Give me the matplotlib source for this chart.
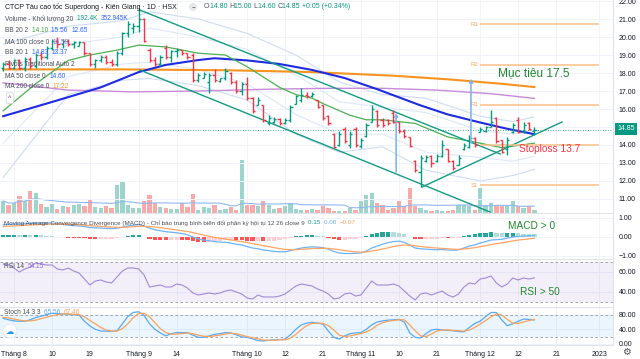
import numpy as np
import pandas as pd
import matplotlib
matplotlib.use('Agg')
import matplotlib.pyplot as plt
from matplotlib import font_manager

names = {f.name for f in font_manager.fontManager.ttflist}
FONT = 'Liberation Sans' if 'Liberation Sans' in names else 'DejaVu Sans'
plt.rcParams['font.family'] = [FONT, 'DejaVu Sans']

# ---- data (bar index 0 = 1 Aug 2022) ----
first_bar = -2
opens = [18.3, 18.5, 18.3, 18.7, 18.3, 18.8, 18.4, 19.0, 18.9, 19.4, 19.8, 19.6, 19.8, 19.6, 19.5, 19.7, 19.1, 18.5, 18.7, 18.9,
         18.6, 18.5, 19.1, 20.2, 20.5, 20.6, 21.0, 19.3, 18.7, 18.5, 19.4, 18.9, 19.2, 19.3, 19.1, 19.0, 17.6, 17.75, 17.5, 17.9,
         17.55, 17.7, 18.0, 17.5, 17.0, 17.4, 16.6, 16.2, 16.2, 15.2, 15.3, 15.45, 15.2, 15.4, 16.3, 16.5, 16.8, 16.7, 16.5, 16.2,
         15.6, 14.6, 14.0, 14.9, 14.0, 14.9, 13.95, 14.5, 15.3, 15.9, 15.4, 15.4, 15.8, 15.3, 14.8, 14.45, 13.1, 12.5, 13.1, 13.4,
         13.1, 13.4, 13.8, 13.1, 12.9, 13.8, 13.9, 14.4, 14.7, 14.8, 15.0, 15.5, 14.3, 13.8, 14.7, 15.4, 14.7, 15.2, 14.8]
highs = [18.6, 18.7, 18.8, 18.8, 18.9, 18.9, 19.1, 19.2, 19.5, 19.9, 20.0, 19.9, 19.9, 19.8, 19.8, 19.7, 19.1, 18.8, 19.0, 19.0,
         18.8, 19.2, 20.3, 20.9, 20.8, 21.6, 21.05, 19.4, 18.9, 19.0, 19.55, 19.3, 19.4, 19.3, 19.1, 19.1, 18.0, 18.05, 18.0, 18.2,
         17.75, 18.3, 18.05, 17.6, 17.5, 17.8, 16.65, 16.65, 16.2, 15.65, 15.55, 15.5, 15.5, 16.2, 16.8, 17.15, 16.95, 16.95, 16.5, 16.2,
         15.65, 14.65, 14.8, 15.0, 14.8, 15.0, 14.4, 15.2, 16.2, 15.95, 15.5, 15.45, 15.95, 15.3, 14.9, 14.45, 13.15, 13.45, 13.45, 13.45,
         13.5, 14.3, 13.8, 13.15, 13.45, 14.1, 14.55, 14.45, 15.0, 15.05, 15.95, 15.55, 14.3, 14.45, 15.2, 15.55, 15.3, 15.3, 15.0]
lows = [18.1, 18.2, 18.2, 18.2, 18.1, 18.2, 18.3, 18.7, 18.8, 19.3, 19.4, 19.4, 19.5, 19.4, 19.5, 19.0, 18.4, 18.3, 18.6, 18.5,
        18.4, 18.4, 19.0, 20.0, 20.2, 20.3, 19.7, 18.6, 18.4, 18.4, 18.8, 18.6, 18.9, 19.0, 18.8, 17.5, 17.5, 17.7, 16.9, 17.5,
        17.5, 17.6, 17.4, 16.9, 16.8, 16.5, 15.8, 16.2, 15.3, 15.1, 15.2, 15.1, 15.15, 15.3, 16.3, 16.4, 16.6, 16.65, 16.05, 15.4,
        15.1, 13.85, 13.95, 14.1, 13.85, 13.9, 13.85, 14.45, 15.3, 15.0, 15.0, 15.1, 15.2, 14.65, 14.4, 13.9, 12.5, 11.65, 13.05, 12.8,
        13.05, 13.35, 13.05, 12.6, 12.9, 13.7, 13.85, 13.9, 14.7, 14.7, 15.0, 14.1, 13.55, 13.45, 14.65, 14.65, 14.65, 14.85, 14.6]
closes = [18.5, 18.3, 18.7, 18.3, 18.8, 18.4, 19.0, 18.9, 19.4, 19.8, 19.6, 19.8, 19.6, 19.7, 19.7, 19.1, 18.5, 18.7, 18.9, 18.6,
          18.5, 19.1, 20.2, 20.7, 20.6, 21.0, 19.8, 18.7, 18.5, 18.9, 18.9, 19.2, 19.3, 19.1, 18.9, 17.6, 17.9, 17.95, 17.9, 17.6,
          17.7, 18.1, 17.5, 17.0, 17.4, 16.6, 15.9, 16.5, 15.4, 15.5, 15.45, 15.2, 15.4, 16.1, 16.7, 16.8, 16.7, 16.85, 16.1, 15.5,
          15.2, 13.9, 14.6, 14.2, 14.6, 14.0, 14.3, 15.1, 16.0, 15.1, 15.1, 15.2, 15.3, 14.8, 14.5, 13.95, 12.6, 13.3, 13.35, 13.0,
          13.4, 14.0, 13.1, 12.7, 13.3, 14.0, 14.4, 14.0, 14.9, 15.0, 15.3, 14.2, 13.6, 14.3, 15.1, 14.7, 15.1, 14.9, 14.85]
volume_k = [700, 460, 580, 990, 700, 1280, 1160, 520, 350, 520, 230, 410, 350, 460, 520, 410, 750, 350, 290, 410,
            290, 1620, 1860, 460, 290, 290, 700, 1040, 580, 350, 290, 230, 230, 580, 350, 1100, 170, 350, 290, 460,
            170, 230, 350, 170, 3070, 460, 460, 410, 700, 460, 230, 290, 410, 580, 230, 170, 170, 230, 170, 410,
            290, 120, 120, 120, 290, 170, 700, 1040, 1160, 580, 460, 170, 290, 700, 410, 1450, 410, 290, 170, 120,
            170, 120, 120, 170, 460, 460, 410, 170, 1450, 460, 580, 410, 410, 410, 700, 410, 290, 410, 192.4]

# moving averages / bands read at a few bars
ma50_x = [-2, 6, 16, 23, 28, 34, 37, 43, 49, 55, 61, 67, 75, 80, 86, 91, 96]
ma50_y = [15.6, 16.3, 17.2, 18.05, 18.45, 18.72, 18.82, 18.7, 18.5, 18.17, 17.72, 17.1, 16.2, 15.7, 15.25, 14.9, 14.6]
ma100_x = [-2, 10, 22, 34, 47, 58, 68, 78, 88, 96]
ma100_y = [17.45, 17.05, 16.95, 17.0, 17.1, 17.15, 17.15, 17.05, 16.85, 16.59]
ma200_x = [-2, 20, 40, 55, 70, 80, 90, 96]
ma200_y = [18.2, 18.2, 18.15, 18.05, 17.85, 17.65, 17.4, 17.22]
bb_mid_x = [-2, 4, 10, 14, 19, 23, 28, 34, 39, 43, 49, 52, 55, 57, 62, 65, 68, 74, 80, 86, 90, 96]
bb_mid_y = [15.9, 17.4, 18.7, 19.0, 19.27, 19.55, 19.45, 19.1, 19.0, 18.35, 17.2, 16.8, 16.6, 16.3, 15.65, 15.4, 15.4, 15.2,
            14.45, 14.1, 13.85, 14.1]
bb_x = [-2, 10, 20, 25, 34, 43, 52, 60, 68, 76, 86, 92, 96]
bb_up2 = [19.6, 20.6, 20.9, 21.4, 21.0, 20.2, 19.0, 17.5, 16.8, 16.6, 15.6, 15.3, 15.56]
bb_lo2 = [12.2, 16.8, 17.6, 17.7, 17.3, 16.5, 14.6, 13.6, 13.9, 12.6, 12.0, 12.3, 12.65]
bb_up1 = [17.7, 19.6, 20.0, 20.5, 20.0, 19.3, 17.9, 16.4, 16.1, 15.8, 14.8, 14.6, 14.83]
bb_lo1 = [14.1, 17.8, 18.5, 18.6, 18.2, 17.4, 15.7, 14.6, 14.6, 13.6, 13.3, 13.1, 13.37]

macd = [0.64, 0.66, 0.68, 0.68, 0.70, 0.71, 0.73, 0.74, 0.74, 0.73, 0.70, 0.66, 0.62, 0.60, 0.58, 0.55, 0.50, 0.48, 0.47, 0.45,
        0.44, 0.46, 0.52, 0.58, 0.62, 0.65, 0.58, 0.47, 0.38, 0.33, 0.28, 0.25, 0.22, 0.18, 0.12, 0.00, -0.10, -0.16, -0.20, -0.24,
        -0.27, -0.28, -0.32, -0.38, -0.42, -0.50, -0.58, -0.62, -0.68, -0.72, -0.76, -0.78, -0.78, -0.72, -0.64, -0.58, -0.54, -0.52,
        -0.53, -0.56, -0.64, -0.76, -0.84, -0.87, -0.87, -0.86, -0.84, -0.74, -0.58, -0.48, -0.38, -0.30, -0.24, -0.22, -0.28, -0.42,
        -0.58, -0.62, -0.64, -0.66, -0.67, -0.66, -0.68, -0.70, -0.68, -0.58, -0.48, -0.42, -0.32, -0.24, -0.16, -0.14, -0.12, -0.06,
        0.00, 0.03, 0.05, 0.07, 0.08]
signal = [0.55, 0.57, 0.58, 0.60, 0.61, 0.63, 0.64, 0.66, 0.67, 0.68, 0.68, 0.68, 0.67, 0.66, 0.64, 0.62, 0.60, 0.58, 0.56, 0.54,
          0.52, 0.51, 0.51, 0.52, 0.54, 0.56, 0.56, 0.55, 0.53, 0.49, 0.45, 0.41, 0.37, 0.33, 0.29, 0.23, 0.16, 0.10, 0.04, -0.02,
          -0.07, -0.11, -0.15, -0.20, -0.24, -0.29, -0.35, -0.40, -0.46, -0.51, -0.56, -0.61, -0.65, -0.67, -0.67, -0.65, -0.63, -0.61,
          -0.60, -0.59, -0.60, -0.63, -0.67, -0.71, -0.75, -0.78, -0.80, -0.79, -0.74, -0.69, -0.63, -0.57, -0.50, -0.45, -0.42, -0.43,
          -0.46, -0.50, -0.53, -0.56, -0.58, -0.60, -0.62, -0.64, -0.65, -0.63, -0.60, -0.56, -0.51, -0.46, -0.40, -0.35, -0.31, -0.26,
          -0.21, -0.16, -0.13, -0.10, -0.07]
rsi = [68, 67, 64, 60, 63, 65, 69, 68, 67, 67, 63, 62, 64, 61, 59, 53, 47, 51, 52, 50,
       49, 55, 61, 64, 64, 63, 57, 45, 46, 47, 45, 45, 48, 47, 44, 39, 37, 38, 39, 38,
       39, 41, 42, 40, 38, 34, 33, 37, 35, 35, 35, 36, 38, 42, 46, 48, 47, 46, 43, 41,
       38, 33, 34, 38, 39, 36, 37, 44, 51, 47, 47, 47, 48, 46, 41, 36, 32, 38, 39, 37,
       39, 41, 37, 35, 38, 45, 49, 48, 53, 54, 56, 49, 45, 48, 54, 52, 54, 53, 54.15]
stoch_k = [70, 66, 63, 62, 62, 66, 72, 76, 80, 84, 83, 82, 81, 80, 79, 62, 49, 40, 35, 35,
           34, 36, 55, 75, 86, 88, 78, 55, 40, 30, 22, 28, 31, 31, 31, 24, 18, 18, 22, 26,
           28, 31, 30, 25, 19, 18, 14, 9, 8, 10, 11, 12, 13, 25, 40, 52, 57, 59, 57, 54,
           35, 18, 13, 22, 28, 30, 31, 40, 52, 60, 63, 65, 66, 67, 60, 30, 18, 16, 28, 38,
           40, 38, 37, 36, 34, 33, 45, 56, 62, 75, 86, 86, 65, 50, 55, 62, 68, 67, 65.56]
stoch_d = [73, 71, 68, 65, 63, 63, 65, 69, 73, 77, 80, 82, 82, 81, 80, 74, 64, 55, 45, 38,
           35, 35, 42, 55, 72, 83, 84, 74, 58, 42, 31, 27, 27, 28, 30, 28, 24, 21, 20, 22,
           24, 27, 29, 28, 24, 20, 17, 14, 11, 10, 10, 11, 11, 16, 26, 39, 50, 56, 57, 56,
           50, 38, 24, 20, 22, 25, 28, 33, 40, 51, 58, 62, 64, 66, 66, 52, 36, 22, 20, 27,
           35, 38, 38, 37, 36, 35, 38, 45, 54, 64, 74, 82, 79, 67, 57, 56, 60, 64, 67.46]

pivot_names = ['R3', 'R2', 'R1', 'P', 'S1']
pivot_levels = [20.72, 18.45, 16.25, 13.98, 11.75]
date_pos = [0, 7, 14, 23, 30, 43, 50, 57, 64, 71, 78, 86, 93, 100, 108]
date_labels = ['Tháng 8', '10', '19', 'Tháng 9', '14', 'Tháng 10', '12', '21', 'Tháng 11', '10', '21',
               'Tháng 12', '12', '21', '2023']

# trend lines drawn on the chart (bar index, price)
chan_top = ([23.2, 89.7], [21.5, 13.5])
chan_bot = ([23.2, 87.8], [18.17, 10.28])
up_line = ([75.3, 101.1], [11.67, 15.28])

# ---- styling ----
W, H = 640, 359
UP, DN = '#089981', '#f23645'
GRID = '#f0f3fa'
SEP = '#e0e3eb'
TXT = '#131722'
XMIN, XMAX = -2.58, 110.5

fig = plt.figure(figsize=(W / 100, H / 100), dpi=100)
fig.patch.set_facecolor('white')


def rect(top, bottom, right=613):
    return [0, 1 - bottom / H, right / W, (bottom - top) / H]


ax_vol = fig.add_axes(rect(0, 213))
ax = fig.add_axes(rect(0, 213))
ax_macd = fig.add_axes(rect(213, 259))
ax_rsi = fig.add_axes(rect(259, 307))
ax_st = fig.add_axes(rect(307, 345))
ax.patch.set_visible(False)

idx = np.arange(first_bar, first_bar + len(closes))
o, h, l, c = map(np.array, (opens, highs, lows, closes))
col = np.where(c >= o, UP, DN)

for a in (ax_vol, ax, ax_macd, ax_rsi, ax_st):
    a.set_xlim(XMIN, XMAX)
    for s in a.spines.values():
        s.set_visible(False)
    a.spines['right'].set_visible(True)
    a.spines['right'].set_color(SEP)
    a.spines['right'].set_linewidth(0.8)
    a.yaxis.tick_right()
    a.tick_params(axis='y', length=0, pad=4, labelsize=5, labelcolor=TXT)
    a.set_xticks(date_pos)
    a.tick_params(axis='x', length=0, labelbottom=False)
for a in (ax_macd, ax_rsi, ax_st):
    a.spines['top'].set_visible(True)
    a.spines['top'].set_color(SEP)
    a.grid(True, color=GRID, lw=0.7)
    a.set_axisbelow(True)

# volume behind price
vol_col = np.where(c >= o, '#9dd5cd', '#f8a9a8')
ax_vol.bar(idx, volume_k, width=0.78, color=vol_col, zorder=2)
vma = pd.Series(volume_k).rolling(20, min_periods=1).mean()
ax_vol.plot(idx, vma, color='#8fb8f0', lw=0.8, zorder=3)
ax_vol.set_ylim(0, 213 * 58)
ax_vol.set_yticks([])
ax_vol.grid(True, axis='x', color=GRID, lw=0.7)
ax_vol.set_axisbelow(True)
ax_vol.spines['right'].set_visible(False)

# price pane
ax.set_ylim(10.222, 22.056)
ax.set_yticks(np.arange(11, 23))
ax.set_yticklabels(['%.2f' % v if v != 15 else '' for v in np.arange(11, 23)])
ax.yaxis.grid(True, color=GRID, lw=0.7, zorder=0)
ax.set_axisbelow(True)

ax.plot(bb_x, bb_up2, color='#cddcf4', lw=0.8)
ax.plot(bb_x, bb_lo2, color='#cddcf4', lw=0.8)
ax.plot(bb_x, bb_up1, color='#dde7f7', lw=0.8)
ax.plot(bb_x, bb_lo1, color='#dde7f7', lw=0.8)
ax.plot(ma100_x, ma100_y, color='#c98ad9', lw=1.0)
ax.plot(ma200_x, ma200_y, color='#f7931e', lw=1.5)
ax.plot(ma50_x, ma50_y, color='#1f2be0', lw=1.5)
ax.plot(bb_mid_x, bb_mid_y, color='#4caf50', lw=0.9)

ax.plot(*chan_top, color='#139b82', lw=1.0)
ax.plot(*chan_bot, color='#139b82', lw=1.0)
ax.plot(*up_line, color='#139b82', lw=1.0)

ax.vlines(idx, l, h, colors=col, lw=1.0, zorder=5)
ax.hlines(o, idx - 0.4, idx, colors=col, lw=1.0, zorder=5)
ax.hlines(c, idx, idx + 0.4, colors=col, lw=1.0, zorder=5)

for name, lev in zip(pivot_names, pivot_levels):
    ax.hlines(lev, 86, 108, color='#fbbf86', lw=1.1, zorder=3)
    if name != 'P':
        ax.text(85.6, lev, name, color='#f7a35c', fontsize=4.3, ha='right', va='center')

ax.axhline(14.85, color=UP, lw=0.6, ls=(0, (1, 2)), zorder=4)

ax.annotate('', xy=(70.5, 15.95), xytext=(70.5, 12.35),
            arrowprops=dict(arrowstyle='-|>', color='#7db7f5', lw=1.2, mutation_scale=5), zorder=6)
ax.annotate('', xy=(84.3, 17.85), xytext=(84.3, 13.95),
            arrowprops=dict(arrowstyle='-|>', color='#7db7f5', lw=1.2, mutation_scale=5), zorder=6)

ax.text(89.3, 18.0, 'Mục tiêu 17.5', color='#1e8a2e', fontsize=8.6, ha='left', va='center', zorder=7)
ax.text(93.2, 13.78, 'Stoploss 13.7', color='#f23645', fontsize=7.3, ha='left', va='center', zorder=7)

# MACD pane
hist = np.array(macd) - np.array(signal)
prev = np.r_[hist[0], hist[:-1]]
hcol = np.where(hist >= 0, np.where(hist >= prev, '#26a69a', '#b2dfdb'),
                np.where(hist <= prev, '#ff5252', '#ffcdd2'))
ax_macd.bar(idx, hist, width=0.78, color=hcol, zorder=2)
ax_macd.plot(idx, macd, color='#6db3f6', lw=0.9, zorder=3)
ax_macd.plot(idx, signal, color='#ffa463', lw=0.9, zorder=3)
ax_macd.set_ylim(-1.158, 1.263)
ax_macd.set_yticks([1, 0, -1])
ax_macd.set_yticklabels(['1.00', '0.00', '−1.00'])
ax_macd.text(91.1, 0.58, 'MACD > 0', color='#1e8a2e', fontsize=7.3, ha='left', va='center')

# RSI pane
ax_rsi.axhspan(30, 70, color='#7e57c2', alpha=0.09, lw=0)
ax_rsi.axhline(70, color='#9598a1', lw=0.6, ls=(0, (3, 3)))
ax_rsi.axhline(30, color='#9598a1', lw=0.6, ls=(0, (3, 3)))
ax_rsi.plot(idx, rsi, color='#a08ad6', lw=0.8)
ax_rsi.set_ylim(25, 73)
ax_rsi.set_yticks([60, 40])
ax_rsi.set_yticklabels(['60.00', '40.00'])
ax_rsi.text(93.4, 40, 'RSI > 50', color='#1e8a2e', fontsize=7.3, ha='left', va='center')

# Stoch pane
ax_st.axhspan(20, 80, color='#2196f3', alpha=0.09, lw=0)
ax_st.axhline(80, color='#9598a1', lw=0.6, ls=(0, (3, 3)))
ax_st.axhline(20, color='#9598a1', lw=0.6, ls=(0, (3, 3)))
ax_st.plot(idx, stoch_k, color='#5aa9f5', lw=0.9)
ax_st.plot(idx, stoch_d, color='#f7a35c', lw=0.9)
ax_st.set_ylim(-3, 101)
ax_st.set_yticks([80, 40, 0])
ax_st.set_yticklabels(['80.00', '40.00', '0.00'])
ax_st.spines['bottom'].set_visible(True)
ax_st.spines['bottom'].set_color(SEP)
ax_st.set_xticklabels(date_labels)
ax_st.tick_params(axis='x', labelbottom=True, labelsize=5, labelcolor=TXT, pad=4)

# pane titles / legend rows
r = fig.canvas.get_renderer()


def row(x0, y0, parts, size=4.7):
    x = x0
    for s, cc in parts:
        t = fig.text(x / W, 1 - y0 / H, s, color=cc, fontsize=size, ha='left', va='center')
        x += t.get_window_extent(renderer=r).width
    return x


GRAY = '#4a4e59'
BLUE = '#2962ff'
row(5, 7, [('CTCP Tàu cao tốc Superdong - Kiên Giang · 1D · HSX', TXT)], size=5.0)
fig.text(193 / W, 1 - 7 / H, '−', color=GRAY, fontsize=4.5, ha='center', va='center',
         bbox=dict(boxstyle='circle,pad=0.25', fc='#e6e8ee', ec='none'))
row(204, 7, [('O', GRAY), ('14.80 ', UP), ('H', GRAY), ('15.00 ', UP), ('L', GRAY), ('14.60 ', UP),
             ('C', GRAY), ('14.85 ', UP), ('+0.05 (+0.34%)', UP)], size=5.0)
row(5, 19, [('Volume - Khối lượng 20  ', GRAY), ('192.4K  ', UP), ('352.945K', BLUE)])
row(5, 31, [('BB 20 2  ', GRAY), ('14.10  ', '#43a047'), ('15.56  ', BLUE), ('12.65', BLUE)])
row(5, 42, [('MA 100 close 0  ', GRAY), ('16.59', '#8e6bd8')])
row(5, 53, [('BB 20 1  ', GRAY), ('14.83  ', BLUE), ('13.37', BLUE)])
row(5, 64, [('Pivots Traditional Auto 2', GRAY)])
row(5, 76, [('MA 50 close 0  ', GRAY), ('14.60', BLUE)])
row(5, 87, [('MA 200 close 0  ', GRAY), ('17.22', '#f7931e')])
fig.text(10 / W, 1 - 98 / H, '^', color=GRAY, fontsize=5, ha='center', va='center',
         bbox=dict(boxstyle='round,pad=0.3', fc='white', ec='#d1d4dc', lw=0.5))

row(4, 223, [('Moving Average Convergence Divergence (MACD) - Chỉ báo trung bình biến đổi phân kỳ hội tụ 12 26 close 9  ', GRAY),
             ('0.15  ', UP), ('0.08  ', '#6db3f6'), ('−0.07', '#f7a35c')], size=4.5)
row(4, 266, [('RSI 14  ', GRAY), ('54.15', '#8e6bd8')], size=4.7)
row(4, 312, [('Stoch 14 3 3  ', GRAY), ('65.56  ', '#5aa9f5'), ('67.46', '#f7a35c')], size=4.7)

# last price tag and corner icons
fig.text(626 / W, 1 - 129 / H, '14.85', color='white', fontsize=5, ha='center', va='center',
         bbox=dict(boxstyle='square,pad=0.35', fc=UP, ec='none'))
fig.text(626 / W, 1 - 352 / H, '⚙', color=GRAY, fontsize=7, ha='center', va='center', family='DejaVu Sans')
fig.text(10 / W, 1 - 331 / H, '☁', color='#2196f3', fontsize=6, ha='center', va='center', family='DejaVu Sans',
         bbox=dict(boxstyle='circle,pad=0.3', fc='white', ec='#e0e3eb', lw=0.5))

fig.savefig('out.png', dpi=100)
